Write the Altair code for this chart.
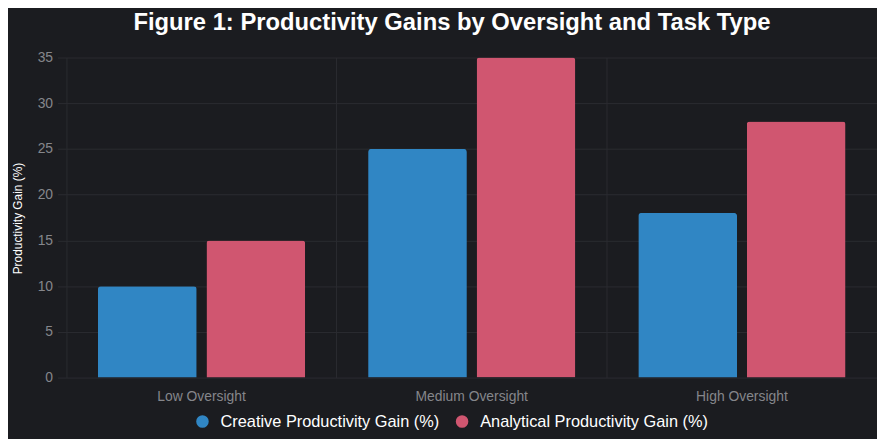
import altair as alt
import pandas as pd

categories = ["Low Oversight", "Medium Oversight", "High Oversight"]
series_names = ["Creative Productivity Gain (%)", "Analytical Productivity Gain (%)"]
creative = [10, 25, 18]
analytical = [15, 35, 28]
colors = ["#3086c4", "#d05670"]

rows = []
for c, v in zip(categories, creative):
    rows.append({"cat": c, "series": series_names[0], "value": v})
for c, v in zip(categories, analytical):
    rows.append({"cat": c, "series": series_names[1], "value": v})
df = pd.DataFrame(rows)

FONT = "Liberation Sans"
GRID = "#2b2c31"
BG = "#1b1c20"
PLOT_W = 818

xscale = alt.Scale(domain=categories, paddingInner=0, paddingOuter=0)

chart = alt.Chart(df).mark_bar(
    cornerRadiusTopLeft=3, cornerRadiusTopRight=3
).encode(
    x=alt.X("cat:N", scale=xscale, sort=categories,
            axis=alt.Axis(title=None, labelAngle=0, grid=True, gridColor=GRID,
                          ticks=False, domain=False,
                          bandPosition=0, labelAlign="center",
                          labelColor="#85868b", labelFontSize=14, labelFont=FONT,
                          labelPadding=12)),
    xOffset=alt.XOffset("series:N", sort=series_names,
                        scale=alt.Scale(paddingInner=0.09, paddingOuter=0.29)),
    y=alt.Y("value:Q", scale=alt.Scale(domain=[0, 35], nice=False),
            axis=alt.Axis(title="Productivity Gain (%)", values=list(range(0, 36, 5)),
                          grid=True, gridColor=GRID, domain=False,
                          tickSize=9, tickColor=GRID, labelPadding=5,
                          labelColor="#85868b", labelFontSize=14, labelFont=FONT,
                          titleColor="#ffffff", titleFontSize=12, titleFont=FONT,
                          titleFontWeight="normal", titleX=-49, titleY=162,
                          titleAngle=-90, titleBaseline="middle", titleAlign="center")),
    color=alt.Color("series:N", sort=series_names,
                    scale=alt.Scale(domain=series_names, range=colors),
                    legend=alt.Legend(title=None, orient="none", direction="horizontal",
                                      legendX=129, legendY=359,
                                      symbolType="circle", symbolSize=160,
                                      symbolStrokeWidth=0, symbolOpacity=1,
                                      labelColor="#ffffff", labelFontSize=16.5,
                                      labelFont=FONT, labelOffset=10, labelLimit=400,
                                      columnPadding=14)),
).properties(
    width=PLOT_W,
    height=323,
    background=BG,
    padding={"left": 59, "top": 48, "right": 0, "bottom": 60},
    autosize=alt.AutoSizeParams(type="none"),
    title=alt.TitleParams(
        "Figure 1: Productivity Gains by Oversight and Task Type",
        font=FONT, fontSize=24, fontWeight="bold", color="#ffffff",
        anchor="middle", dx=-20, offset=16,
    ),
).configure_view(stroke=None)

chart.save("out.html", embed_options={"renderer": "svg", "actions": False})
